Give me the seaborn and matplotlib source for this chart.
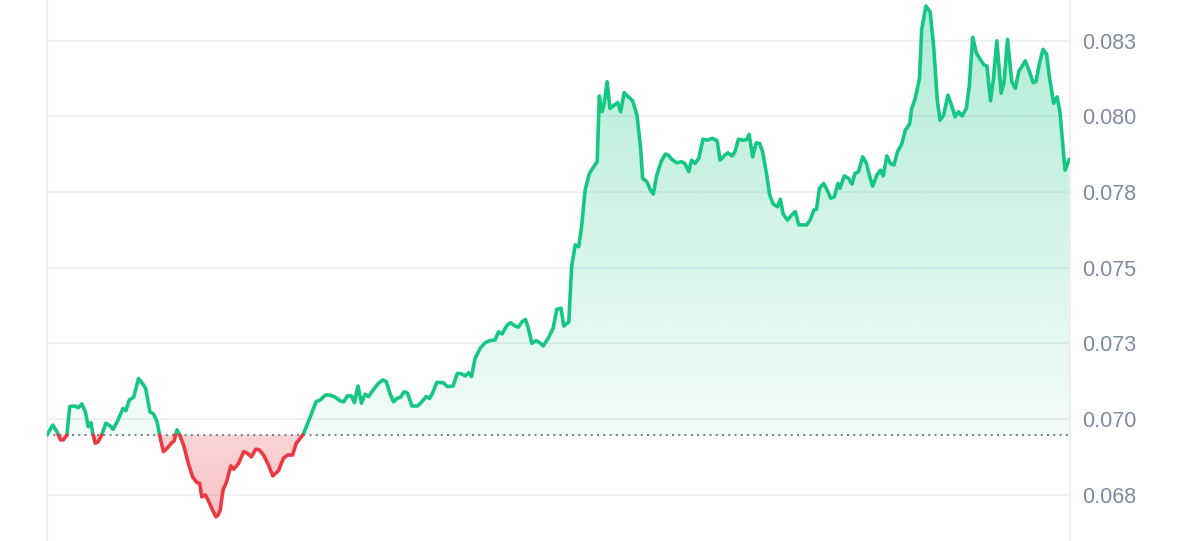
import numpy as np
import pandas as pd

import matplotlib
matplotlib.use("Agg")
import matplotlib.pyplot as plt
from matplotlib.colors import to_rgb
from matplotlib.path import Path
from matplotlib.patches import PathPatch
import seaborn as sns

# -----------------------
# Data (24h, minutes since open)
# -----------------------
minutes = [
    0, 8, 14, 19, 23, 28, 32, 39, 44, 49,
    54, 58, 62, 64, 68, 72, 77, 83, 89, 93,
    99, 107, 111, 116, 122, 129, 136, 139, 145, 150,
    155, 159, 164, 169, 176, 179, 183, 187, 193, 199,
    205, 211, 215, 218, 223, 227, 232, 238, 241, 244,
    248, 253, 259, 263, 270, 277, 282, 288, 294, 299,
    305, 312, 318, 326, 333, 339, 346, 351, 355, 361,
    371, 379, 385, 392, 399, 406, 413, 418, 423, 429,
    433, 438, 443, 448, 453, 460, 467, 473, 478, 483,
    488, 493, 498, 503, 508, 514, 522, 528, 534, 539,
    543, 549, 558, 564, 572, 578, 584, 589, 594, 598,
    603, 610, 617, 624, 631, 636, 641, 648, 653, 659,
    664, 669, 674, 678, 683, 689, 694, 699, 706, 713,
    718, 724, 728, 735, 739, 744, 749, 753, 758, 764,
    770, 775, 778, 782, 785, 789, 793, 799, 804, 808,
    813, 819, 825, 831, 836, 839, 845, 850, 854, 859,
    865, 871, 875, 880, 887, 894, 899, 904, 908, 913,
    918, 924, 930, 937, 944, 948, 955, 959, 965, 969,
    974, 981, 986, 989, 994, 999, 1004, 1008, 1013, 1018,
    1023, 1029, 1033, 1037, 1043, 1049, 1054, 1059, 1066, 1070,
    1075, 1080, 1084, 1088, 1094, 1099, 1104, 1109, 1114, 1117,
    1123, 1129, 1134, 1138, 1143, 1149, 1154, 1159, 1163, 1169,
    1174, 1178, 1183, 1188, 1193, 1198, 1204, 1209, 1215, 1218,
    1223, 1229, 1232, 1238, 1244, 1249, 1254, 1258, 1263, 1269,
    1275, 1279, 1284, 1289, 1295, 1299, 1304, 1309, 1315, 1320,
    1324, 1329, 1333, 1338, 1344, 1348, 1353, 1359, 1364, 1369,
    1373, 1378, 1384, 1389, 1393, 1398, 1403, 1408, 1412, 1418,
    1423, 1427, 1434, 1440,
]

price = [
    0.06947, 0.06980, 0.06958, 0.06931, 0.06931, 0.06947, 0.07041, 0.07043, 0.07037, 0.07050,
    0.07024, 0.06975, 0.06988, 0.06958, 0.06920, 0.06925, 0.06947, 0.06986, 0.06977, 0.06966,
    0.06991, 0.07035, 0.07027, 0.07063, 0.07072, 0.07134, 0.07112, 0.07101, 0.07024, 0.07017,
    0.06991, 0.06942, 0.06892, 0.06903, 0.06922, 0.06927, 0.06964, 0.06947, 0.06909, 0.06854,
    0.06809, 0.06790, 0.06788, 0.06743, 0.06749, 0.06732, 0.06705, 0.06677, 0.06683, 0.06699,
    0.06766, 0.06793, 0.06845, 0.06834, 0.06854, 0.06892, 0.06887, 0.06875, 0.06900, 0.06898,
    0.06881, 0.06848, 0.06812, 0.06829, 0.06870, 0.06881, 0.06881, 0.06920, 0.06931, 0.06950,
    0.07008, 0.07057, 0.07063, 0.07079, 0.07079, 0.07072, 0.07060, 0.07057, 0.07076, 0.07076,
    0.07054, 0.07109, 0.07052, 0.07082, 0.07074, 0.07098, 0.07118, 0.07129, 0.07123, 0.07085,
    0.07057, 0.07068, 0.07072, 0.07090, 0.07085, 0.07043, 0.07043, 0.07057, 0.07074, 0.07068,
    0.07085, 0.07121, 0.07120, 0.07107, 0.07109, 0.07151, 0.07149, 0.07142, 0.07153, 0.07140,
    0.07200, 0.07233, 0.07252, 0.07259, 0.07261, 0.07288, 0.07281, 0.07310, 0.07318, 0.07308,
    0.07303, 0.07321, 0.07329, 0.07300, 0.07250, 0.07259, 0.07252, 0.07241, 0.07267, 0.07300,
    0.07362, 0.07366, 0.07307, 0.07321, 0.07503, 0.07575, 0.07569, 0.07635, 0.07756, 0.07811,
    0.07833, 0.07850, 0.08067, 0.08015, 0.08043, 0.08114, 0.08026, 0.08037, 0.08045, 0.08015,
    0.08078, 0.08064, 0.08051, 0.08004, 0.07899, 0.07795, 0.07784, 0.07756, 0.07743, 0.07806,
    0.07850, 0.07875, 0.07872, 0.07858, 0.07846, 0.07850, 0.07842, 0.07817, 0.07855, 0.07844,
    0.07861, 0.07924, 0.07921, 0.07927, 0.07919, 0.07855, 0.07872, 0.07879, 0.07869, 0.07883,
    0.07924, 0.07921, 0.07924, 0.07940, 0.07866, 0.07912, 0.07910, 0.07883, 0.07817, 0.07740,
    0.07710, 0.07701, 0.07726, 0.07677, 0.07657, 0.07674, 0.07685, 0.07641, 0.07641, 0.07641,
    0.07657, 0.07690, 0.07693, 0.07762, 0.07778, 0.07756, 0.07729, 0.07734, 0.07778, 0.07762,
    0.07803, 0.07795, 0.07776, 0.07811, 0.07817, 0.07866, 0.07846, 0.07800, 0.07769, 0.07806,
    0.07822, 0.07803, 0.07869, 0.07844, 0.07839, 0.07883, 0.07908, 0.07954, 0.07974, 0.08026,
    0.08059, 0.08125, 0.08285, 0.08364, 0.08345, 0.08230, 0.08054, 0.07987, 0.08004, 0.08070,
    0.08031, 0.07998, 0.08015, 0.08001, 0.08026, 0.08097, 0.08261, 0.08210, 0.08186, 0.08169,
    0.08166, 0.08051, 0.08120, 0.08249, 0.08076, 0.08111, 0.08254, 0.08114, 0.08092, 0.08150,
    0.08163, 0.08183, 0.08147, 0.08111, 0.08114, 0.08175, 0.08221, 0.08205, 0.08130, 0.08043,
    0.08064, 0.08010, 0.07822, 0.07858,
]

tick_values = [0.0675, 0.0700, 0.0725, 0.0750, 0.0775, 0.0800, 0.0825]
tick_labels = ["0.068", "0.070", "0.073", "0.075", "0.078", "0.080", "0.083"]

GREEN = "#16c784"
RED = "#ea3943"
GRID = "#eff1f3"
LABEL = "#808a9d"
Y_LIMITS = (0.06597, 0.08384)

sns.set_theme(style="white")
plt.rcParams["font.family"] = ["Liberation Sans", "DejaVu Sans"]

t = np.array(minutes, dtype=float)
p = np.array(price, dtype=float)
open_price = p[0]
d = p - open_price

# ---- split the line into up / down runs, breaking at the open-price crossings
rows = []
seg = 0
cur = "up" if (d[1] if d[0] == 0 else d[0]) >= 0 else "down"
rows.append((t[0], p[0], seg, cur))
for i in range(1, len(t)):
    side = cur if d[i] == 0 else ("up" if d[i] > 0 else "down")
    if side != cur:
        f = d[i - 1] / (d[i - 1] - d[i])
        tc = t[i - 1] + f * (t[i] - t[i - 1])
        rows.append((tc, open_price, seg, cur))
        seg += 1
        cur = side
        rows.append((tc, open_price, seg, cur))
    rows.append((t[i], p[i], seg, cur))
df = pd.DataFrame(rows, columns=["minute", "price", "seg", "side"])

fig = plt.figure(figsize=(12, 5.41), dpi=100)
ax = fig.add_axes([47 / 1200, 0, 1023 / 1200, 1])


def gradient_fill(poly, color, a_top, a_bottom, y_bottom, y_top):
    rgb = to_rgb(color)
    img = np.zeros((256, 1, 4))
    img[..., :3] = rgb
    img[:, 0, 3] = np.linspace(a_top, a_bottom, 256)
    im = ax.imshow(img, aspect="auto", origin="upper", interpolation="bilinear",
                   extent=[t[0], t[-1], y_bottom, y_top], zorder=1)
    paths = poly.get_paths()
    if not paths:
        im.remove()
        return
    patch = PathPatch(Path.make_compound_path(*paths), transform=ax.transData,
                      facecolor="none", edgecolor="none")
    ax.add_patch(patch)
    im.set_clip_path(patch)


up_poly = ax.fill_between(t, p, open_price, where=d >= 0, interpolate=True,
                          facecolor="none", edgecolor="none", lw=0)
down_poly = ax.fill_between(t, p, open_price, where=d <= 0, interpolate=True,
                            facecolor="none", edgecolor="none", lw=0)
gradient_fill(up_poly, GREEN, 0.34, 0.05, open_price, p.max())
gradient_fill(down_poly, RED, 0.22, 0.30, p.min(), open_price)

# ---- open-price dotted baseline
ax.hlines(open_price, t[0], t[-1], colors="#7d8290", linestyles=(0, (1, 2)),
          lw=1.5, zorder=2)

sns.lineplot(data=df, x="minute", y="price", hue="side", units="seg",
             estimator=None, sort=False, palette={"up": GREEN, "down": RED},
             linewidth=2.6, legend=False, ax=ax, zorder=3,
             solid_joinstyle="round", solid_capstyle="round")

ax.set_xlim(0, 1441)
ax.set_ylim(*Y_LIMITS)
ax.set_xticks([])
ax.set_xlabel("")
ax.set_ylabel("")
ax.yaxis.tick_right()
ax.set_yticks(tick_values)
ax.set_yticklabels(tick_labels)
ax.tick_params(axis="y", length=0, pad=9, labelsize=15.5, labelcolor=LABEL)
ax.grid(axis="y", color=GRID, lw=1.4)
ax.grid(axis="x", visible=False)
ax.set_axisbelow(True)

for name in ("top", "bottom"):
    ax.spines[name].set_visible(False)
for name in ("left", "right"):
    ax.spines[name].set_visible(True)
    ax.spines[name].set_color("#eeeff1")
    ax.spines[name].set_linewidth(1.6)

fig.savefig("out.png", dpi=100)
plt.close(fig)
